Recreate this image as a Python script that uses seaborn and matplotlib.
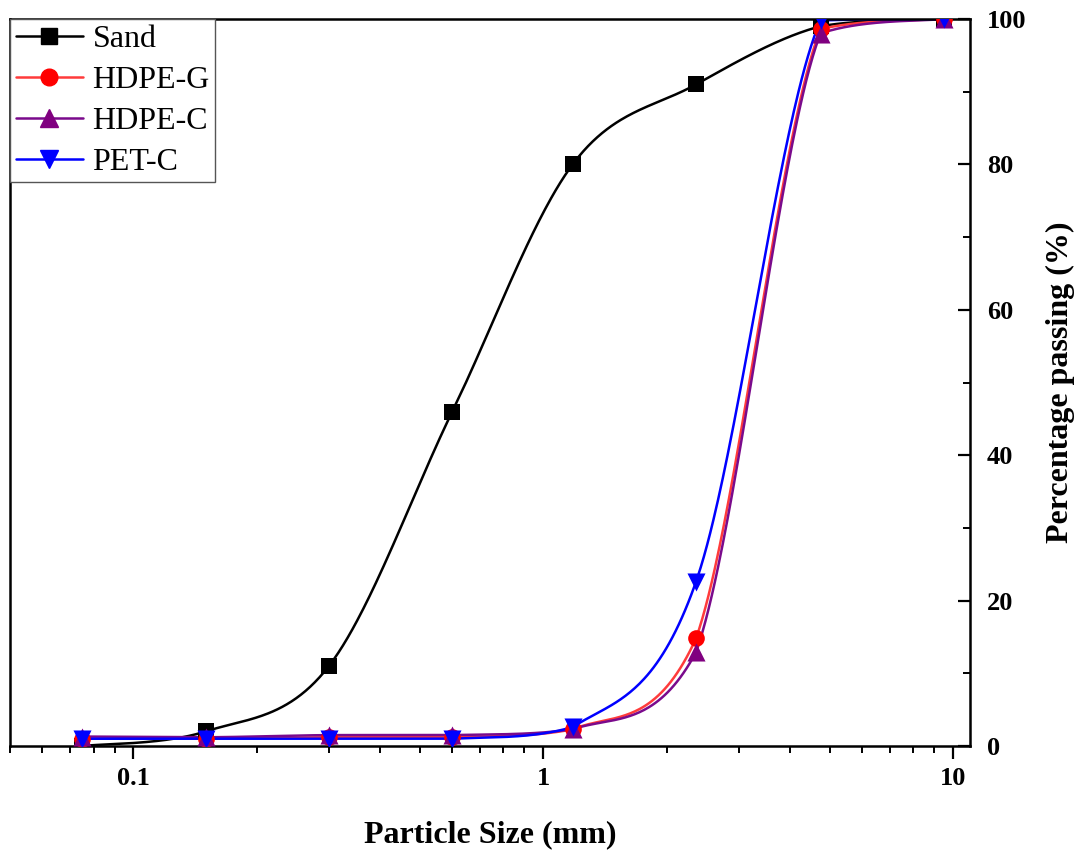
import matplotlib
matplotlib.use('Agg')
import matplotlib.pyplot as plt
from matplotlib.lines import Line2D
from matplotlib.ticker import LogLocator, FixedLocator, MultipleLocator, NullFormatter
import seaborn as sns
import pandas as pd
import numpy as np

# sieve sizes (mm) and percentage passing
sieve_sizes = [0.075, 0.15, 0.3, 0.6, 1.18, 2.36, 4.75, 9.5]
sand = [0, 2, 11, 46, 80, 91, 99, 100]
hdpe_g = [1.0, 1.0, 1.2, 1.2, 2.3, 14.8, 98.6, 100]
hdpe_c = [1.3, 1.2, 1.5, 1.5, 2.3, 12.9, 98.0, 100]
pet_c = [1.0, 1.0, 1.0, 1.0, 2.6, 22.6, 99.8, 100]

series = {
    'Sand': (sand, 'black', 'black', 's', 11),
    'HDPE-G': (hdpe_g, '#ff3b3b', 'red', 'o', 12),
    'HDPE-C': (hdpe_c, '#7a0a8c', 'purple', '^', 13),
    'PET-C': (pet_c, '#0000ff', 'blue', 'v', 13),
}


def bezier_line(x, y, n=80):
    """Smooth Bezier connection through the points, worked out in screen-like units
    (log x per decade, y per percent); control points kept inside each segment box"""
    px = np.log10(np.asarray(x, float)) * 410.0
    py = np.asarray(y, float) * 7.27
    P = np.column_stack([px, py])
    k = len(P)
    T = np.zeros_like(P)
    T[0] = (P[1] - P[0]) / 2
    T[-1] = (P[-1] - P[-2]) / 2
    T[1:-1] = (P[2:] - P[:-2]) / 2
    t = np.linspace(0, 1, n)[:, None]
    out = []
    for i in range(k - 1):
        c0, c3 = P[i], P[i + 1]
        lo, hi = np.minimum(c0, c3), np.maximum(c0, c3)
        c1 = np.clip(c0 + T[i] / 3, lo, hi)
        c2 = np.clip(c3 - T[i + 1] / 3, lo, hi)
        seg = (1 - t) ** 3 * c0 + 3 * (1 - t) ** 2 * t * c1 + 3 * (1 - t) * t ** 2 * c2 + t ** 3 * c3
        out.append(seg if i == 0 else seg[1:])
    out = np.vstack(out)
    return 10 ** (out[:, 0] / 410.0), out[:, 1] / 7.27


sns.set_style('ticks')
plt.rcParams['font.family'] = ['Liberation Serif', 'DejaVu Serif']
for key in ['text.color', 'axes.labelcolor', 'xtick.color', 'ytick.color']:
    plt.rcParams[key] = 'black'

fig = plt.figure(figsize=(10.75, 8.56), dpi=100)
ax = fig.add_axes([0.0093, 0.1285, 0.8930, 0.8493])

handles = []
for name, (vals, color, face, marker, ms) in series.items():
    cx, cy = bezier_line(sieve_sizes, vals)
    curve = pd.DataFrame({'size': cx, 'passing': cy})
    sns.lineplot(data=curve, x='size', y='passing', ax=ax, color=color, lw=1.8,
                 sort=False, estimator=None, zorder=2)
    pts = pd.DataFrame({'size': sieve_sizes, 'passing': vals})
    sns.scatterplot(data=pts, x='size', y='passing', ax=ax, color=face,
                    marker=marker, s=ms ** 2, edgecolor=face, linewidth=0, zorder=3)
    handles.append(Line2D([], [], color=color, lw=1.8, marker=marker,
                          markersize=ms, markerfacecolor=face,
                          markeredgecolor=face, label=name))

ax.set_xscale('log')
ax.set_xlim(0.05, 11)
ax.set_ylim(0, 100)

ax.xaxis.set_major_locator(FixedLocator([0.1, 1, 10]))
ax.set_xticklabels(['0.1', '1', '10'])
ax.xaxis.set_minor_locator(LogLocator(base=10, subs=np.arange(2, 10) * 1.0, numticks=20))
ax.xaxis.set_minor_formatter(NullFormatter())

ax.yaxis.tick_right()
ax.yaxis.set_label_position('right')
ax.yaxis.set_major_locator(MultipleLocator(20))
ax.yaxis.set_minor_locator(MultipleLocator(10))

for side in ['top', 'right', 'left', 'bottom']:
    ax.spines[side].set_visible(True)
    ax.spines[side].set_linewidth(1.8)
    ax.spines[side].set_color('black')

ax.tick_params(axis='x', which='major', direction='out', length=9, width=1.6,
               labelsize=19, pad=6, colors='black')
ax.tick_params(axis='x', which='minor', direction='out', length=5, width=1.4, colors='black')
ax.tick_params(axis='y', which='major', direction='in', length=9, width=1.6,
               labelsize=19, pad=12, left=False, right=True, colors='black')
ax.tick_params(axis='y', which='minor', direction='in', length=5, width=1.4,
               left=False, right=True, colors='black')
for lab in ax.get_xticklabels() + ax.get_yticklabels():
    lab.set_fontweight('bold')

ax.set_xlabel('Particle Size (mm)', fontsize=23, fontweight='bold', labelpad=22, color='black')
ax.set_ylabel('Percentage passing (%)', fontsize=23, fontweight='bold', labelpad=14, color='black')

leg = ax.legend(handles=handles, loc='upper left', fontsize=23, frameon=True,
                fancybox=False, edgecolor='#555555', borderaxespad=0.0,
                handlelength=2.1, handletextpad=0.3, labelspacing=0.36,
                borderpad=0.18, framealpha=1)
leg.get_frame().set_linewidth(1.0)
for txt in leg.get_texts():
    txt.set_color('black')

fig.savefig('out.png', dpi=100)
plt.close(fig)
